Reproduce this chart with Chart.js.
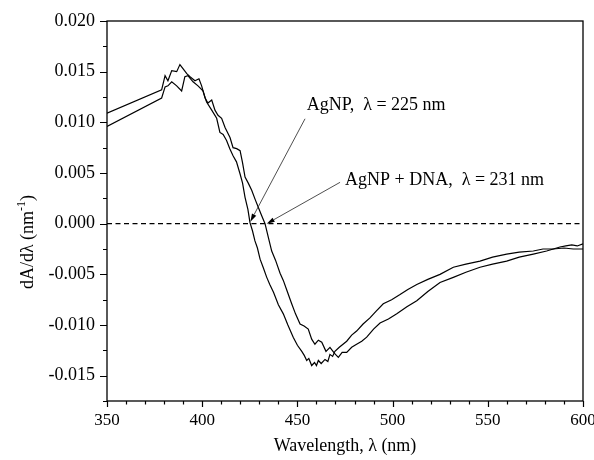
<!DOCTYPE html>
<html>
<head>
<meta charset="utf-8">
<script src="https://cdn.jsdelivr.net/npm/chart.js@4"></script>
<style>
  html, body { margin: 0; padding: 0; background: #fff; }
  #wrap { width: 594px; height: 460px; }
</style>
</head>
<body>
<div id="wrap"><canvas id="chart" width="594" height="460"></canvas></div>
<script>
// AgNP (crosses zero first, around 425 nm)
const agnpWavelength = [350, 378.7, 380.5, 382.0, 384.0, 386.6, 389.2, 390.9, 392.5, 395.2, 397.8, 400.4, 402.3, 405.0, 407.6, 409.3, 411.0, 412.8, 414.5, 416.2, 418.0, 419.9, 421.2, 422.5, 424.0, 425.1, 426.4, 427.7, 429.0, 430.4, 432.0, 433.9, 435.5, 437.5, 440.0, 442.6, 445.0, 447.8, 450.0, 452.3, 453.6, 454.9, 456.0, 457.5, 459.0, 460.0, 461.0, 462.5, 464.5, 466.0, 467.1, 468.5, 469.7, 472.0, 475.9, 478.5, 481.1, 484.5, 488.1, 491.5, 495.1, 499.5, 503.9, 508.0, 512.7, 518.5, 524.9, 531.9, 538.5, 545.9, 552.5, 559.9, 566.5, 573.9, 579.0, 584.4, 590.0, 594.9, 600];
const agnpValue = [0.0096, 0.0124, 0.0135, 0.0136, 0.0140, 0.0136, 0.0131, 0.0145, 0.0146, 0.0140, 0.0136, 0.0131, 0.0120, 0.0112, 0.0104, 0.0090, 0.0088, 0.0082, 0.0074, 0.0067, 0.0061, 0.0049, 0.0040, 0.0026, 0.0014, 0.0001, -0.0007, -0.0017, -0.0024, -0.0035, -0.0043, -0.0053, -0.0060, -0.0068, -0.0080, -0.0089, -0.0100, -0.0112, -0.0120, -0.0126, -0.0130, -0.0135, -0.0133, -0.0140, -0.0137, -0.0140, -0.0135, -0.0138, -0.0134, -0.0136, -0.0129, -0.0131, -0.0126, -0.0122, -0.0116, -0.0110, -0.0106, -0.0099, -0.0093, -0.0086, -0.0079, -0.0075, -0.0070, -0.0065, -0.0060, -0.0055, -0.0050, -0.0043, -0.0040, -0.0037, -0.0033, -0.0030, -0.0028, -0.0027, -0.0025, -0.0025, -0.0024, -0.0025, -0.0025];

// AgNP + DNA (crosses zero around 433 nm)
const dnaWavelength = [350, 378.7, 380.5, 382.0, 384.0, 386.6, 388.3, 389.9, 391.9, 393.6, 396.2, 398.3, 399.7, 401.5, 403.0, 405.0, 406.7, 408.3, 410.2, 412.0, 414.6, 416.2, 418.1, 419.9, 421.2, 422.5, 424.2, 426.0, 427.8, 429.5, 431.2, 433.0, 434.8, 436.5, 438.5, 440.9, 442.6, 444.5, 447.0, 449.0, 451.4, 453.5, 455.7, 457.5, 459.2, 461.0, 462.8, 465.0, 467.1, 469.5, 471.5, 473.5, 475.9, 478.5, 481.1, 483.8, 486.4, 490.0, 493.4, 497.8, 502.2, 507.5, 512.7, 518.5, 524.9, 531.9, 538.5, 545.9, 552.5, 559.9, 566.5, 573.9, 580.9, 587.9, 591.0, 594.1, 597.0, 600];
const dnaValue = [0.0109, 0.0132, 0.0146, 0.0141, 0.0151, 0.0150, 0.0157, 0.0153, 0.0148, 0.0145, 0.0141, 0.0143, 0.0136, 0.0124, 0.0119, 0.0122, 0.0112, 0.0107, 0.0104, 0.0095, 0.0085, 0.0075, 0.0074, 0.0072, 0.0060, 0.0046, 0.0040, 0.0033, 0.0024, 0.0016, 0.0008, 0.0000, -0.0014, -0.0027, -0.0036, -0.0049, -0.0056, -0.0066, -0.0079, -0.0089, -0.0099, -0.0101, -0.0104, -0.0114, -0.0119, -0.0115, -0.0117, -0.0126, -0.0122, -0.0128, -0.0132, -0.0127, -0.0127, -0.0122, -0.0119, -0.0116, -0.0112, -0.0104, -0.0098, -0.0094, -0.0089, -0.0082, -0.0076, -0.0067, -0.0058, -0.0053, -0.0048, -0.0043, -0.0040, -0.0037, -0.0033, -0.0030, -0.0027, -0.0023, -0.0022, -0.0021, -0.0022, -0.0020];

// dashed zero reference
const zeroWavelength = [350, 600];
const zeroValue = [0, 0];

// axes
const xMin = 350, xMax = 600, xMajorStep = 50, xMinorStep = 10;
const yMin = -0.0175, yMax = 0.020, yMajorStep = 0.005, yMinorStep = 0.0025;

// callouts: text, text anchor, leader start, arrow tip (data units)
const calloutText = ['AgNP,  \u03bb = 225 nm', 'AgNP + DNA,  \u03bb = 231 nm'];
const calloutTextAt = [[454.9, 0.01117], [475.0, 0.00385]];
const calloutFrom = [[454.0, 0.01035], [472.4, 0.00408]];
const calloutTip = [[425.3, 0.0002], [433.9, 0.0]];

const xTitle = 'Wavelength, \u03bb (nm)';
const yTitle = ['dA/d\u03bb (nm', '-1', ')'];

const FONT = '"Liberation Serif", "Times New Roman", serif';

const toPoints = (xs, ys) => xs.map((x, i) => ({ x, y: ys[i] }));

const decorations = {
  id: 'decorations',
  afterDraw(chart) {
    const { ctx, chartArea: a, scales: { x, y } } = chart;
    ctx.save();
    ctx.strokeStyle = '#000';
    ctx.fillStyle = '#000';
    ctx.lineWidth = 1.3;
    ctx.strokeRect(a.left, a.top, a.right - a.left, a.bottom - a.top);

    // tick marks, outward
    ctx.lineWidth = 1.2;
    ctx.beginPath();
    for (let v = xMin; v <= xMax + 1e-9; v += xMinorStep) {
      const px = Math.round(x.getPixelForValue(v)) + 0.5;
      const major = Math.abs((v - xMin) % xMajorStep) < 1e-9;
      ctx.moveTo(px, a.bottom);
      ctx.lineTo(px, a.bottom + (major ? 6 : 3.5));
    }
    const nY = Math.round((yMax - yMin) / yMinorStep);
    for (let i = 0; i <= nY; i++) {
      const v = yMin + i * yMinorStep;
      const py = Math.round(y.getPixelForValue(v)) + 0.5;
      const major = Math.abs(v / yMajorStep - Math.round(v / yMajorStep)) < 1e-6;
      ctx.moveTo(a.left, py);
      ctx.lineTo(a.left - (major ? 7 : 4), py);
    }
    ctx.stroke();

    // callouts
    ctx.strokeStyle = '#222';
    ctx.fillStyle = '#000';
    calloutText.forEach((t, i) => {
      const fx = x.getPixelForValue(calloutFrom[i][0]);
      const fy = y.getPixelForValue(calloutFrom[i][1]);
      const tx = x.getPixelForValue(calloutTip[i][0]);
      const ty = y.getPixelForValue(calloutTip[i][1]);
      const ang = Math.atan2(ty - fy, tx - fx);
      const len = 8, half = 2.4;
      const bx = tx - len * Math.cos(ang);
      const by = ty - len * Math.sin(ang);
      ctx.lineWidth = 0.8;
      ctx.beginPath();
      ctx.moveTo(fx, fy);
      ctx.lineTo(bx, by);
      ctx.stroke();
      ctx.beginPath();
      ctx.moveTo(tx, ty);
      ctx.lineTo(bx + half * Math.sin(ang), by - half * Math.cos(ang));
      ctx.lineTo(bx - half * Math.sin(ang), by + half * Math.cos(ang));
      ctx.closePath();
      ctx.fill();

      ctx.font = '18px ' + FONT;
      ctx.textAlign = 'left';
      ctx.textBaseline = 'alphabetic';
      ctx.fillText(t, x.getPixelForValue(calloutTextAt[i][0]), y.getPixelForValue(calloutTextAt[i][1]));
    });

    // x title
    ctx.font = '18px ' + FONT;
    ctx.textAlign = 'center';
    ctx.textBaseline = 'middle';
    ctx.fillText(xTitle, (a.left + a.right) / 2, 446);

    // y title with superscript
    ctx.textAlign = 'left';
    ctx.textBaseline = 'alphabetic';
    const big = '18px ' + FONT, small = '12px ' + FONT;
    ctx.font = big;
    const w0 = ctx.measureText(yTitle[0]).width;
    const w2 = ctx.measureText(yTitle[2]).width;
    ctx.font = small;
    const w1 = ctx.measureText(yTitle[1]).width;
    const total = w0 + w1 + w2;
    ctx.translate(33, 242);
    ctx.rotate(-Math.PI / 2);
    let cx = -total / 2;
    ctx.font = big;
    ctx.fillText(yTitle[0], cx, 0);
    cx += w0;
    ctx.font = small;
    ctx.fillText(yTitle[1], cx, -8);
    cx += w1;
    ctx.font = big;
    ctx.fillText(yTitle[2], cx, 0);
    ctx.restore();
  },
};

Chart.defaults.font.family = FONT;
Chart.defaults.color = '#000';

const lineStyle = {
  showLine: true,
  borderColor: '#000',
  borderWidth: 1.2,
  pointRadius: 0,
  tension: 0,
  fill: false,
};

new Chart(document.getElementById('chart'), {
  type: 'scatter',
  data: {
    datasets: [
      { label: 'AgNP', data: toPoints(agnpWavelength, agnpValue), ...lineStyle },
      { label: 'AgNP + DNA', data: toPoints(dnaWavelength, dnaValue), ...lineStyle },
      { label: 'zero', data: toPoints(zeroWavelength, zeroValue), ...lineStyle, borderDash: [5, 3.5] },
    ],
  },
  options: {
    responsive: false,
    animation: false,
    layout: { padding: { top: 21, right: 11, left: 0, bottom: 0 } },
    plugins: {
      legend: { display: false },
      tooltip: { enabled: false },
    },
    scales: {
      x: {
        type: 'linear',
        min: xMin,
        max: xMax,
        grid: { display: false, drawTicks: false },
        border: { display: false },
        ticks: { stepSize: xMajorStep, padding: 9, font: { size: 17 }, maxRotation: 0 },
        afterFit(scale) {
          scale.height = 59;
          scale.paddingLeft = 0;
          scale.paddingRight = 0;
        },
      },
      y: {
        type: 'linear',
        min: yMin,
        max: yMax,
        grid: { display: false, drawTicks: false },
        border: { display: false },
        ticks: {
          stepSize: yMajorStep,
          padding: 12,
          font: { size: 18 },
          callback: (v) => {
            const r = v / yMajorStep;
            if (Math.abs(r - Math.round(r)) > 1e-6) return '';
            return Math.abs(v) < 1e-9 ? '0.000' : v.toFixed(3);
          },
        },
        afterFit(scale) {
          scale.width = 107;
          scale.paddingTop = 0;
          scale.paddingBottom = 0;
        },
      },
    },
  },
  plugins: [decorations],
});
</script>
</body>
</html>
